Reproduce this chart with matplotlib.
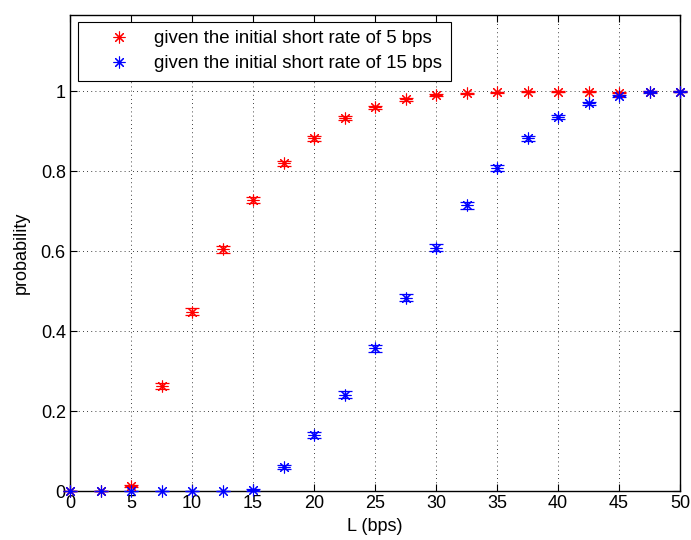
import numpy as np
import matplotlib.pyplot as plt
from matplotlib.lines import Line2D

plt.rcParams["font.family"] = ["Liberation Sans", "DejaVu Sans"]

# Threshold L in bps
L = [0, 2.5, 5, 7.5, 10, 12.5, 15, 17.5, 20, 22.5, 25,
     27.5, 30, 32.5, 35, 37.5, 40, 42.5, 45, 47.5, 50]

# Probability, initial short rate 5 bps
p_5 = [0.0, 0.0, 0.012, 0.263, 0.448, 0.604, 0.727, 0.819, 0.882, 0.932, 0.959,
       0.979, 0.990, 0.994, 0.997, 0.998, 0.998, 0.998, 0.996, 0.998, 0.998]
err_5 = [0.0, 0.0, 0.003, 0.008, 0.009, 0.009, 0.008, 0.007, 0.006, 0.005, 0.004,
         0.003, 0.002, 0.002, 0.001, 0.001, 0.001, 0.001, 0.001, 0.001, 0.001]

# Probability, initial short rate 15 bps
p_15 = [0.0, 0.0, 0.0, 0.0, 0.0, 0.0, 0.003, 0.059, 0.140, 0.241, 0.357,
        0.483, 0.608, 0.714, 0.808, 0.882, 0.934, 0.969, 0.988, 0.997, 0.998]
err_15 = [0.0, 0.0, 0.0, 0.0, 0.0, 0.0, 0.002, 0.005, 0.007, 0.008, 0.009,
          0.009, 0.009, 0.008, 0.007, 0.006, 0.005, 0.004, 0.003, 0.002, 0.001]

labels = ["given the initial short rate of 5 bps",
          "given the initial short rate of 15 bps"]
colors = ["#ff0000", "#0000ff"]

star = (8, 2, 0)  # asterisk: plus + cross

fig = plt.figure(figsize=(6.91, 5.40), dpi=100)
ax = fig.add_axes([70 / 691, 1 - 491 / 540, 610 / 691, 476 / 540])

for y, e, c in [(p_5, err_5, colors[0]), (p_15, err_15, colors[1])]:
    ax.errorbar(L, y, yerr=e, fmt="none", ecolor=c, elinewidth=0.9,
                capsize=5, capthick=0.9, clip_on=False, zorder=3)
    ax.plot(L, y, linestyle="none", marker=star, markersize=8.5,
            markeredgewidth=0.8, color=c, clip_on=False, zorder=4)

ax.set_xlim(0, 50)
ax.set_ylim(0, 1.19)
ax.set_xticks(np.arange(0, 51, 5))
ax.set_yticks([0, 0.2, 0.4, 0.6, 0.8, 1])
ax.set_yticklabels(["0", "0.2", "0.4", "0.6", "0.8", "1"])
ax.tick_params(direction="in", top=True, right=True, length=5, width=0.8,
               labelsize=13, pad=3)
ax.grid(True, linestyle=(0, (1, 4)), color="black", linewidth=0.6)
for s in ax.spines.values():
    s.set_linewidth(1.0)

ax.set_xlabel("L (bps)", fontsize=13, labelpad=4)
ax.set_ylabel("probability", fontsize=13, labelpad=8)

handles = [Line2D([], [], linestyle="none", marker=star, markersize=8.5,
                  markeredgewidth=0.8, color=c) for c in colors]
leg = ax.legend(handles, labels, loc="upper left", fontsize=13.4,
                bbox_to_anchor=(8 / 610, 1 - 7 / 476), borderaxespad=0,
                fancybox=False, edgecolor="black", framealpha=1,
                handlelength=3.5, handletextpad=0.15, borderpad=0.45,
                labelspacing=0.42)
leg.get_frame().set_linewidth(0.8)

fig.savefig("out.png", dpi=100)
